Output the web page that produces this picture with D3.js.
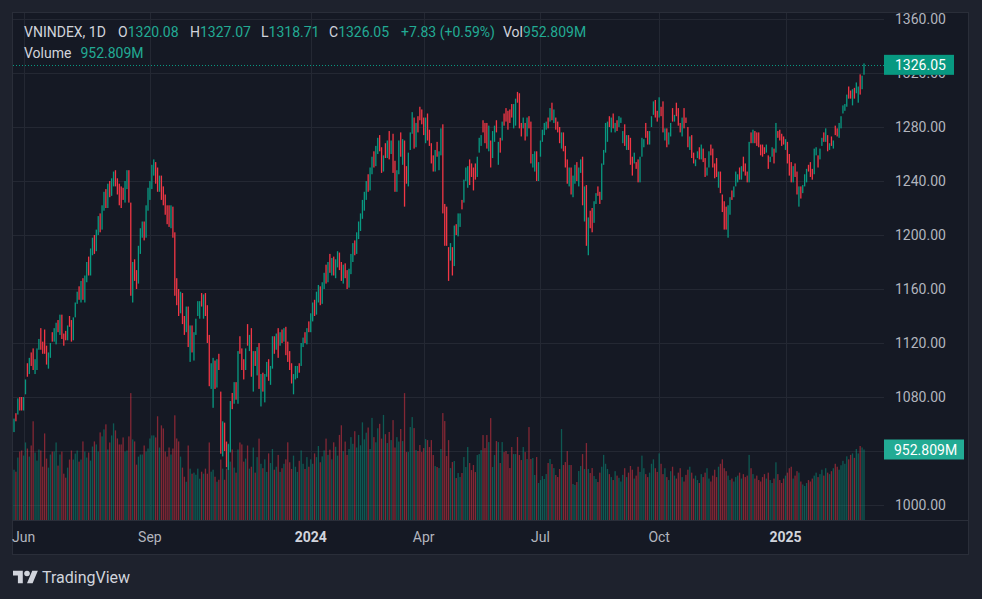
<!DOCTYPE html>
<html><head><meta charset="utf-8">
<script src="https://cdn.jsdelivr.net/npm/d3@7/dist/d3.min.js"></script>
<style>
html,body{margin:0;padding:0;background:#1e222d;overflow:hidden;}
svg{display:block;font-family:Roboto,"Noto Sans",sans-serif;}
</style></head><body>
<svg id="c" width="982" height="599"></svg>
<script>
// ---------- DATA ----------
const opens=[
1056,1067,1068,1079,1078,1071,1083,1104,1098,1112,
1114,1098,1101,1116,1129,1120,1128,1117,1103,1110,
1127,1122,1121,1136,1128,1140,1126,1128,1123,1139,
1136,1123,1140,1150,1160,1154,1166,1155,1168,1180,
1172,1188,1198,1189,1202,1214,1205,1220,1232,1222,
1238,1230,1240,1246,1238,1236,1232,1232,1226,1238,
1246,1222,1160,1177,1170,1165,1190,1203,1206,1199,
1220,1232,1236,1250,1252,1241,1235,1242,1229,1225,
1218,1214,1208,1220,1200,1158,1152,1145,1155,1137,
1130,1146,1107,1132,1108,1127,1141,1140,1156,1139,
1156,1147,1125,1088,1073,1106,1088,1111,1083,1038,
1060,1045,1030,1040,1082,1076,1090,1077,1124,1115,
1107,1101,1133,1115,1130,1085,1113,1097,1119,1074,
1097,1077,1096,1107,1090,1102,1124,1116,1130,1119,
1129,1122,1131,1120,1113,1104,1083,1094,1095,1104,
1104,1118,1127,1120,1135,1130,1140,1147,1143,1156,
1160,1151,1163,1170,1167,1178,1175,1181,1172,1180,
1185,1176,1168,1176,1170,1163,1173,1184,1192,1188,
1200,1208,1214,1224,1229,1238,1235,1248,1256,1253,
1264,1270,1264,1248,1268,1258,1277,1261,1274,1254,
1233,1246,1276,1253,1266,1250,1237,1264,1276,1287,
1266,1287,1294,1293,1287,1268,1289,1278,1268,1259,
1248,1269,1249,1260,1281,1222,1221,1191,1181,1191,
1177,1208,1199,1206,1226,1224,1240,1236,1256,1253,
1250,1253,1243,1261,1266,1285,1283,1283,1262,1270,
1257,1269,1285,1252,1272,1270,1290,1294,1292,1293,
1297,1279,1282,1306,1305,1283,1279,1283,1273,1288,
1284,1250,1248,1262,1241,1258,1269,1274,1278,1287,
1284,1298,1283,1287,1284,1277,1270,1274,1264,1252,
1240,1248,1232,1242,1250,1243,1246,1258,1211,1236,
1194,1218,1220,1209,1223,1236,1232,1226,1252,1261,
1269,1288,1276,1290,1276,1285,1280,1283,1268,1282,
1263,1274,1272,1258,1253,1254,1256,1239,1258,1265,
1283,1277,1267,1280,1289,1300,1292,1287,1295,1299,
1270,1279,1267,1273,1294,1284,1298,1294,1283,1273,
1294,1287,1280,1263,1274,1261,1251,1257,1265,1256,
1264,1257,1245,1250,1267,1264,1253,1257,1235,1247,
1230,1225,1221,1199,1215,1233,1228,1236,1239,1250,
1241,1258,1253,1247,1240,1276,1268,1277,1276,1275,
1267,1266,1265,1261,1259,1254,1258,1264,1261,1277,
1278,1275,1273,1263,1269,1260,1254,1239,1253,1247,
1221,1236,1231,1236,1239,1252,1254,1249,1245,1259,
1259,1256,1266,1276,1269,1274,1263,1273,1264,1281,
1279,1272,1279,1290,1292,1295,1310,1307,1296,1309,
1305,1299,1319,1308,1320.08];
const highs=[
1064,1068,1079,1080,1080,1080,1093,1105,1109,1113,
1116,1108,1116,1123,1131,1121,1130,1118,1113,1120,
1128,1131,1135,1137,1141,1141,1127,1129,1133,1140,
1137,1139,1150,1158,1162,1166,1168,1170,1180,1184,
1190,1198,1200,1204,1214,1216,1222,1232,1234,1238,
1240,1242,1247,1248,1242,1238,1236,1235,1240,1248,
1248,1224,1180,1182,1174,1192,1205,1210,1210,1222,
1235,1240,1252,1256,1254,1250,1244,1244,1236,1230,
1222,1222,1222,1221,1202,1168,1160,1158,1157,1140,
1147,1147,1133,1133,1128,1138,1151,1151,1157,1156,
1157,1148,1126,1105,1109,1107,1108,1112,1084,1062,
1061,1047,1045,1077,1083,1091,1091,1114,1125,1116,
1108,1116,1134,1126,1131,1114,1114,1117,1120,1097,
1098,1097,1106,1108,1103,1125,1125,1127,1131,1128,
1130,1131,1132,1121,1114,1105,1097,1103,1103,1105,
1120,1124,1128,1131,1136,1142,1150,1152,1158,1163,
1162,1165,1172,1178,1180,1186,1183,1184,1182,1188,
1187,1180,1178,1179,1174,1175,1186,1194,1196,1202,
1210,1216,1226,1232,1240,1245,1250,1258,1262,1266,
1272,1274,1265,1259,1268,1270,1277,1270,1275,1255,
1248,1270,1276,1271,1270,1251,1261,1276,1291,1287,
1283,1288,1295,1293,1287,1287,1290,1278,1268,1259,
1263,1269,1262,1279,1282,1223,1221,1191,1194,1191,
1207,1208,1216,1216,1226,1241,1250,1251,1256,1253,
1250,1253,1258,1272,1274,1285,1283,1283,1281,1270,
1277,1281,1285,1269,1272,1284,1290,1294,1292,1293,
1297,1297,1301,1306,1305,1283,1287,1283,1287,1288,
1284,1260,1262,1262,1254,1270,1278,1283,1284,1287,
1294,1298,1293,1287,1284,1280,1276,1276,1266,1256,
1250,1250,1244,1252,1254,1250,1256,1258,1236,1237,
1213,1218,1220,1225,1231,1236,1232,1253,1263,1283,
1284,1288,1287,1290,1283,1285,1288,1287,1277,1282,
1274,1274,1272,1258,1261,1254,1256,1258,1272,1271,
1283,1277,1277,1288,1299,1300,1292,1302,1295,1299,
1279,1279,1276,1283,1294,1289,1298,1294,1283,1287,
1294,1287,1280,1273,1274,1261,1256,1262,1265,1267,
1264,1257,1250,1262,1267,1264,1253,1257,1247,1247,
1230,1225,1221,1222,1228,1233,1236,1247,1245,1250,
1251,1258,1253,1247,1269,1276,1278,1277,1276,1276,
1267,1267,1265,1267,1259,1258,1265,1264,1283,1277,
1278,1275,1273,1271,1269,1260,1254,1251,1253,1247,
1236,1236,1237,1245,1249,1252,1254,1249,1264,1265,
1259,1264,1272,1276,1279,1274,1268,1273,1270,1281,
1279,1283,1288,1296,1297,1304,1310,1307,1308,1309,
1313,1310,1319,1318,1327.07];
const lows=[
1054,1062,1067,1070,1070,1070,1082,1095,1097,1103,
1100,1097,1100,1115,1115,1112,1112,1104,1101,1109,
1121,1121,1119,1128,1126,1123,1118,1122,1122,1132,
1121,1122,1139,1149,1152,1150,1152,1150,1165,1170,
1170,1185,1186,1188,1200,1202,1204,1218,1220,1220,
1228,1229,1236,1236,1230,1222,1220,1226,1224,1234,
1224,1155,1150,1166,1160,1164,1186,1198,1196,1198,
1218,1226,1234,1244,1238,1232,1232,1226,1222,1215,
1208,1206,1205,1198,1155,1148,1140,1142,1134,1126,
1128,1117,1106,1113,1107,1126,1140,1138,1147,1138,
1140,1120,1088,1086,1072,1086,1087,1100,1038,1036,
1040,1028,1026,1039,1071,1075,1078,1075,1112,1100,
1093,1100,1118,1114,1095,1084,1103,1096,1086,1073,
1084,1076,1095,1092,1089,1101,1112,1115,1109,1118,
1120,1121,1111,1106,1100,1090,1082,1093,1094,1098,
1103,1117,1120,1119,1128,1128,1136,1140,1141,1150,
1148,1149,1160,1164,1165,1172,1170,1170,1168,1176,
1174,1166,1164,1168,1160,1161,1171,1180,1185,1186,
1197,1203,1212,1218,1226,1232,1233,1245,1250,1251,
1260,1262,1246,1247,1257,1257,1256,1260,1246,1232,
1232,1245,1258,1252,1221,1238,1236,1263,1275,1264,
1265,1276,1285,1282,1274,1268,1270,1266,1253,1247,
1247,1258,1248,1259,1216,1192,1192,1166,1181,1170,
1177,1200,1199,1206,1219,1224,1240,1235,1237,1243,
1233,1241,1243,1261,1266,1276,1268,1264,1262,1250,
1257,1269,1276,1252,1261,1270,1281,1284,1278,1283,
1287,1279,1281,1298,1279,1273,1279,1270,1273,1279,
1253,1250,1247,1240,1240,1258,1269,1274,1278,1279,
1284,1285,1283,1278,1276,1268,1264,1262,1250,1238,
1236,1230,1228,1238,1240,1236,1246,1222,1210,1192,
1185,1205,1202,1209,1223,1229,1223,1226,1252,1261,
1269,1280,1276,1279,1276,1277,1280,1283,1268,1266,
1263,1263,1252,1244,1253,1249,1239,1239,1258,1265,
1272,1267,1267,1280,1289,1287,1284,1287,1288,1276,
1270,1265,1267,1273,1284,1284,1288,1281,1276,1273,
1279,1283,1265,1263,1257,1253,1251,1257,1256,1256,
1254,1243,1244,1250,1259,1250,1242,1243,1235,1231,
1217,1204,1204,1198,1215,1226,1228,1236,1239,1241,
1241,1247,1244,1239,1239,1268,1268,1268,1266,1265,
1259,1258,1260,1261,1249,1254,1258,1253,1261,1272,
1270,1266,1267,1263,1253,1244,1239,1239,1243,1230,
1221,1227,1231,1236,1239,1247,1243,1241,1245,1259,
1250,1256,1266,1269,1269,1262,1263,1266,1264,1274,
1273,1272,1279,1290,1292,1295,1301,1301,1296,1301,
1305,1298,1304,1308,1318.71];
const closes=[
1062,1063,1077,1072,1071,1079,1092,1097,1108,1105,
1102,1107,1115,1122,1117,1113,1114,1106,1112,1119,
1122,1130,1134,1129,1140,1125,1119,1123,1132,1133,
1122,1138,1149,1157,1154,1164,1155,1168,1178,1172,
1188,1196,1189,1202,1212,1205,1220,1230,1222,1236,
1230,1240,1245,1238,1233,1226,1224,1228,1238,1246,
1226,1160,1177,1170,1165,1190,1203,1206,1199,1220,
1232,1236,1250,1252,1241,1235,1242,1229,1225,1218,
1210,1208,1220,1200,1158,1152,1145,1156,1137,1130,
1145,1119,1131,1114,1127,1137,1150,1149,1148,1155,
1141,1121,1090,1103,1107,1087,1106,1101,1040,1060,
1042,1030,1043,1075,1073,1089,1080,1112,1114,1102,
1095,1115,1120,1124,1097,1112,1105,1115,1088,1095,
1086,1095,1104,1094,1101,1123,1114,1125,1111,1126,
1122,1129,1113,1108,1102,1092,1095,1101,1102,1099,
1118,1122,1121,1129,1130,1140,1147,1143,1156,1160,
1151,1163,1170,1167,1178,1175,1181,1172,1180,1185,
1176,1168,1176,1170,1163,1173,1184,1192,1188,1200,
1208,1214,1224,1229,1238,1235,1248,1256,1253,1264,
1270,1265,1248,1258,1258,1269,1258,1269,1248,1234,
1247,1269,1260,1270,1232,1240,1260,1275,1290,1266,
1282,1278,1286,1283,1275,1286,1271,1267,1254,1248,
1262,1259,1261,1278,1217,1194,1193,1168,1193,1171,
1206,1201,1215,1215,1220,1240,1249,1250,1238,1244,
1234,1242,1257,1271,1273,1277,1269,1265,1280,1251,
1276,1280,1277,1268,1262,1283,1282,1285,1279,1284,
1288,1296,1300,1299,1280,1274,1286,1271,1286,1280,
1254,1259,1261,1241,1253,1269,1277,1282,1283,1280,
1293,1286,1292,1279,1277,1270,1274,1264,1252,1240,
1248,1232,1242,1250,1243,1248,1255,1223,1235,1194,
1212,1206,1203,1224,1230,1230,1224,1252,1262,1282,
1283,1281,1286,1280,1282,1278,1287,1286,1276,1267,
1273,1264,1253,1245,1260,1250,1240,1257,1271,1270,
1273,1268,1276,1287,1298,1288,1285,1301,1289,1277,
1278,1266,1275,1282,1285,1288,1289,1282,1277,1286,
1280,1284,1266,1272,1258,1254,1255,1261,1257,1266,
1255,1244,1249,1261,1260,1251,1243,1244,1246,1232,
1218,1205,1205,1221,1227,1227,1235,1246,1244,1242,
1250,1248,1245,1240,1268,1269,1277,1269,1267,1266,
1260,1259,1261,1266,1250,1257,1264,1254,1282,1273,
1271,1267,1268,1270,1254,1245,1240,1250,1244,1231,
1235,1228,1236,1244,1248,1248,1244,1242,1263,1264,
1251,1263,1271,1270,1278,1263,1267,1267,1269,1275,
1274,1282,1287,1295,1296,1303,1302,1302,1307,1302,
1312,1309,1305,1317,1326.05];
const volumes=[
680,653,844,925,939,871,1048,966,857,1007,
1334,912,803,953,939,721,1170,830,708,885,
925,925,1048,735,885,925,626,572,708,817,
939,817,898,939,789,817,1062,925,844,912,
803,993,1062,1021,925,1184,1130,1225,1293,953,
1048,1143,1306,1211,1102,1021,1021,1116,925,939,
1130,1715,1089,1062,748,857,885,885,1007,925,
966,1102,1143,1143,1116,1402,980,1279,1238,925,
857,980,885,966,1415,1102,1062,857,708,585,
517,1007,694,626,640,612,694,558,653,626,
694,626,1048,653,680,585,517,544,817,694,
544,694,1034,789,953,708,640,953,1048,1021,
789,830,1007,694,
720,980,640,850,1100,760,700,820,650,900,
770,960,680,720,880,650,700,760,820,1050,
780,690,870,720,650,800,940,760,690,850,720,
820,760,900,850,1000,780,860,940,1100,880,
950,820,1050,990,870,1150,1280,930,1060,880,
960,1120,1030,1200,980,1150,1010,1320,1090,1180,
1250,960,1380,1120,1050,1240,1300,1100,1420,1160,
1040,1190,1080,1350,980,1120,1060,1230,
1067,1715,918,918,1256,1391,1242,945,932,1013,
918,972,1094,1080,986,1080,878,729,716,702,
959,1445,1337,864,1080,702,783,797,567,635,
581,635,851,716,986,770,675,743,648,878,
891,945,1148,972,1148,1053,1377,716,878,1067,
1053,770,1053,918,932,891,702,986,891,891,
1121,878,810,986,918,824,1256,824,837,608,
851,500,540,594,554,621,770,824,756,702,
608,581,689,1229,743,783,932,743,743,486,
473,513,662,729,891,689,1040,689,635,702,
594,554,513,
640,720,880,760,690,620,580,540,660,600,
570,520,610,700,580,640,730,680,560,600,
720,650,870,700,620,
580,640,760,820,700,650,900,760,620,700,
580,540,660,720,600,560,640,700,580,520,
610,680,720,640,560,600,540,500,620,580,
640,700,560,520,600,680,580,720,760,820,
700,660,600,540,560,520,580,600,640,560,
620,580,600,880,700,620,560,600,540,520,
580,620,560,640,540,500,560,780,620,540,
500,560,600,640,700,720,560,600,660,640,
520,480,460,500,540,520,560,600,640,580,
620,680,600,700,640,620,660,700,760,720,
680,740,800,760,860,820,880,900,840,960,
900,1000,980,952.809];
const priceTicks=[1000,1040,1080,1120,1160,1200,1240,1280,1320,1360];
const timeTickIndex=[5,71,155,214,275,337,403];
const timeTickLabels=["Jun","Sep","2024","Apr","Jul","Oct","2025"];
const timeTickBold=[false,false,true,false,false,false,true];
const symbolTitle="VNINDEX, 1D";
const lastChange="+7.83 (+0.59%)";
const lastVolumeText="952.809M";

// ---------- CHART ----------
const W=982,H=599;
const UP="#089981",DOWN="#f23645";
const svg=d3.select("#c");
svg.append("rect").attr("width",W).attr("height",H).attr("fill","#1e222d");
svg.append("rect").attr("x",12.5).attr("y",12.5).attr("width",956).attr("height",542)
  .attr("fill","#151924").attr("stroke","#2a2e39");

const paneL=13,paneR=884,paneT=13,paneB=520;
const n=closes.length;
const x=d3.scaleLinear().domain([0,n-1]).range([14,864]);
const y=d3.scaleLinear().domain([1000,1360]).range([505,19]);
const vy=d3.scaleLinear().domain([0,952.809]).range([520,449.5]);
const lastP=closes[n-1], lastV=volumes[n-1];

const defs=svg.append("defs");
defs.append("clipPath").attr("id","pane")
  .append("rect").attr("x",paneL).attr("y",paneT).attr("width",paneR-paneL).attr("height",paneB-paneT);

const grid=svg.append("g").attr("stroke","#242833").attr("stroke-width",1);
grid.selectAll("line.h").data(priceTicks).join("line").attr("class","h")
  .attr("x1",paneL).attr("x2",paneR).attr("y1",d=>Math.round(y(d))+0.5).attr("y2",d=>Math.round(y(d))+0.5);
grid.selectAll("line.v").data(timeTickIndex).join("line").attr("class","v")
  .attr("y1",paneT).attr("y2",paneB).attr("x1",d=>Math.round(x(d))+0.5).attr("x2",d=>Math.round(x(d))+0.5);

svg.append("line").attr("x1",12).attr("x2",969).attr("y1",520.5).attr("y2",520.5).attr("stroke","#2a2e39");

const plot=svg.append("g").attr("clip-path","url(#pane)");
const idx=d3.range(n);
const isUp=i=>closes[i]>=opens[i];

plot.append("g").selectAll("rect").data(idx).join("rect")
  .attr("x",i=>x(i)-0.65).attr("width",1.3)
  .attr("y",i=>vy(volumes[i])).attr("height",i=>paneB-vy(volumes[i]))
  .attr("fill",i=>isUp(i)?UP:DOWN).attr("fill-opacity",0.5);

plot.append("g").selectAll("rect").data(idx).join("rect")
  .attr("x",i=>x(i)-0.65).attr("width",1.3)
  .attr("y",i=>y(highs[i])).attr("height",i=>Math.max(1,y(lows[i])-y(highs[i])))
  .attr("fill",i=>isUp(i)?UP:DOWN);

plot.append("line").attr("x1",paneL).attr("x2",paneR)
  .attr("y1",Math.round(y(lastP))+0.5).attr("y2",Math.round(y(lastP))+0.5)
  .attr("stroke",UP).attr("stroke-dasharray","1,2");

// price axis labels (labels fully under the volume box are not drawn, as in the reference;
// the one partly under the last-price box only shows its uncovered part)
const pBoxTop=y(lastP)-10, pBoxBot=y(lastP)+10;
const vBoxTop=vy(lastV)-10, vBoxBot=vy(lastV)+10;
defs.append("clipPath").attr("id","belowPriceBox")
  .append("rect").attr("x",884).attr("y",pBoxBot).attr("width",98).attr("height",40);
const ticksShown=priceTicks.filter(t=>!(y(t)-6>=vBoxTop && y(t)+6<=vBoxBot));
svg.append("g").selectAll("text").data(ticksShown).join("text")
  .attr("x",895).attr("y",d=>y(d)+5).attr("fill","#b2b5be").attr("font-size",14)
  .attr("clip-path",d=>(y(d)+6>pBoxTop && y(d)-6<pBoxBot)?"url(#belowPriceBox)":null)
  .text(d=>d3.format(".2f")(d));

svg.append("rect").attr("x",884).attr("y",pBoxTop).attr("width",70).attr("height",20).attr("fill",UP);
svg.append("text").attr("x",895).attr("y",y(lastP)+5).attr("fill","#ffffff").attr("font-size",14)
  .text(d3.format(".2f")(lastP));
svg.append("rect").attr("x",884).attr("y",vBoxTop).attr("width",80).attr("height",20).attr("fill","#22ab94");
svg.append("text").attr("x",894).attr("y",vy(lastV)+5).attr("fill","#ffffff").attr("font-size",14)
  .text(lastVolumeText);

svg.append("g").selectAll("text").data(timeTickIndex).join("text")
  .attr("x",d=>x(d)).attr("y",542).attr("text-anchor","middle").attr("font-size",14)
  .attr("font-weight",(d,i)=>timeTickBold[i]?"bold":"normal")
  .attr("fill",(d,i)=>timeTickBold[i]?"#d1d4dc":"#b2b5be")
  .text((d,i)=>timeTickLabels[i]);

// header legend: label immediately followed by its value
const hdr=svg.append("g").attr("font-size",14);
const TXT="#d1d4dc",VAL="#22ab94";
const f2=d3.format(".2f");
function pair(x0,yy,label,value,gap){
  const t=hdr.append("text").attr("x",x0).attr("y",yy).attr("fill",TXT).text(label);
  const w=t.node().getComputedTextLength();
  hdr.append("text").attr("x",x0+w+(gap||0)).attr("y",yy).attr("fill",VAL).text(value);
}
hdr.append("text").attr("x",24).attr("y",37).attr("fill",TXT).text(symbolTitle);
pair(118,37,"O",f2(opens[n-1]));
pair(190,37,"H",f2(highs[n-1]));
pair(261,37,"L",f2(lows[n-1]));
pair(329,37,"C",f2(lastP));
hdr.append("text").attr("x",401).attr("y",37).attr("fill",VAL).text(lastChange);
pair(503,37,"Vol",lastVolumeText);
pair(24,58,"Volume",lastVolumeText,9);

const logo=svg.append("g").attr("transform","translate(13,567.9) scale(0.7)").attr("fill","#d1d4dc");
logo.append("path").attr("d","M14 22H7V11H0V4h14v18zM28 22h-8l7.5-18h8L28 22z");
logo.append("circle").attr("cx",20).attr("cy",8).attr("r",4);
svg.append("text").attr("x",42).attr("y",583).attr("font-size",16).attr("fill","#d1d4dc").text("TradingView");
</script>
</body></html>
